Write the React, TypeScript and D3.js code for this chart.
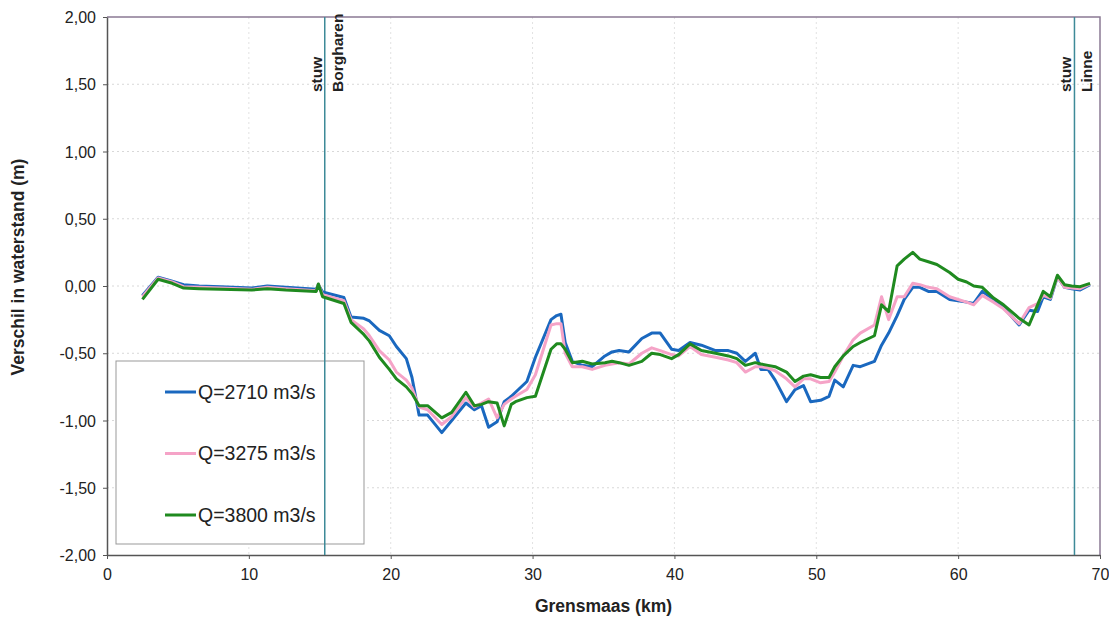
import React, { useEffect, useRef } from 'react';
import * as d3 from 'd3';

const km = [2.5, 3.6, 4.6, 5.4, 6.5, 8, 10.2, 11.3, 12.6, 14.75, 14.9, 15.2, 16.7, 17.2, 18.1, 18.5, 19.2, 19.9, 20.4, 21.1, 21.5, 22.0, 22.6, 23.6, 24.3, 25.3, 25.9, 26.4, 26.9, 27.5, 28.0, 28.5, 28.8, 29.6, 30.2, 31.3, 31.7, 32.0, 32.3, 32.8, 33.5, 34.2, 35.1, 35.6, 36.1, 36.8, 37.7, 38.4, 39.0, 39.8, 40.3, 41.1, 41.9, 42.9, 43.8, 44.4, 45.0, 45.7, 46.1, 46.6, 47.1, 47.9, 48.5, 49.1, 49.6, 50.3, 50.9, 51.3, 51.9, 52.6, 53.1, 54.1, 54.6, 55.1, 55.7, 56.2, 56.8, 57.3, 57.9, 58.5, 59.4, 60.0, 60.6, 61.1, 61.7, 62.5, 63.2, 64.3, 65.0, 65.6, 66.0, 66.5, 67.0, 67.5, 68.0, 68.6, 69.3];

const q2710 = [-0.07, 0.065, 0.035, 0.01, 0.0, -0.005, -0.015, 0.0, -0.01, -0.025, 0.01, -0.045, -0.085, -0.23, -0.24, -0.26, -0.33, -0.37, -0.45, -0.54, -0.68, -0.96, -0.96, -1.09, -1.0, -0.87, -0.92, -0.89, -1.05, -1.01, -0.86, -0.82, -0.79, -0.71, -0.53, -0.25, -0.22, -0.21, -0.42, -0.56, -0.59, -0.6, -0.52, -0.49, -0.48, -0.49, -0.39, -0.35, -0.35, -0.47, -0.48, -0.42, -0.44, -0.48, -0.48, -0.5, -0.56, -0.5, -0.62, -0.62, -0.7, -0.86, -0.77, -0.74, -0.86, -0.85, -0.82, -0.7, -0.75, -0.59, -0.6, -0.56, -0.44, -0.35, -0.22, -0.1, -0.01, -0.01, -0.04, -0.04, -0.1, -0.11, -0.12, -0.13, -0.04, -0.1, -0.16, -0.29, -0.18, -0.19, -0.08, -0.1, 0.07, -0.01, -0.02, -0.03, 0.01];

const q3275 = [-0.08, 0.06, 0.03, -0.005, -0.01, -0.015, -0.025, -0.01, -0.02, -0.035, 0.012, -0.065, -0.11, -0.25, -0.32, -0.37, -0.48, -0.55, -0.64, -0.7, -0.76, -0.9, -0.92, -1.03, -0.97, -0.83, -0.9, -0.87, -0.84, -0.98, -0.88, -0.84, -0.82, -0.77, -0.66, -0.29, -0.28, -0.28, -0.5, -0.6, -0.6, -0.62, -0.59, -0.58, -0.57, -0.58, -0.5, -0.46, -0.48, -0.51, -0.52, -0.45, -0.51, -0.53, -0.55, -0.57, -0.64, -0.6, -0.6, -0.61, -0.63, -0.69, -0.75, -0.69, -0.69, -0.72, -0.71, -0.64, -0.52, -0.4, -0.35, -0.29, -0.08, -0.25, -0.08, -0.08, 0.02, 0.01, -0.01, -0.02, -0.08, -0.1, -0.12, -0.14, -0.07, -0.12, -0.17, -0.28, -0.16, -0.13, -0.07, -0.09, 0.07, -0.01, -0.015, -0.02, 0.015];

const q3800 = [-0.1, 0.05, 0.02, -0.015, -0.02, -0.025, -0.03, -0.02, -0.03, -0.04, 0.015, -0.08, -0.13, -0.27, -0.36, -0.41, -0.53, -0.62, -0.69, -0.75, -0.8, -0.89, -0.89, -0.98, -0.94, -0.79, -0.89, -0.88, -0.86, -0.87, -1.04, -0.88, -0.86, -0.83, -0.82, -0.47, -0.43, -0.43, -0.47, -0.57, -0.56, -0.58, -0.57, -0.56, -0.57, -0.59, -0.56, -0.5, -0.51, -0.54, -0.51, -0.43, -0.48, -0.5, -0.52, -0.54, -0.59, -0.57, -0.58, -0.59, -0.6, -0.64, -0.71, -0.67, -0.66, -0.68, -0.68, -0.6, -0.52, -0.45, -0.42, -0.37, -0.14, -0.19, 0.15, 0.2, 0.25, 0.2, 0.18, 0.16, 0.1, 0.05, 0.03, 0.0, -0.01, -0.09, -0.14, -0.24, -0.29, -0.14, -0.04, -0.08, 0.08, 0.01, 0.0, -0.005, 0.02];

const seriesNames = ['Q=2710 m3/s', 'Q=3275 m3/s', 'Q=3800 m3/s'];
const seriesValues = [q2710, q3275, q3800];
const seriesColors = ['#1a68bf', '#f5a3c7', '#1f8a1f'];

const weirKm = [15.35, 68.2];
const weirNames = ['Borgharen', 'Linne'];

const xTicks = [0, 10, 20, 30, 40, 50, 60, 70];
const yTicks = [-2, -1.5, -1, -0.5, 0, 0.5, 1, 1.5, 2];

const W = 1109;
const H = 617;
const margin = { top: 17, right: 9, bottom: 62, left: 107 };
const font = 'Arial, "Liberation Sans", sans-serif';

const nl = d3.formatLocale({ decimal: ',', thousands: '.', grouping: [3], currency: ['€', ''], minus: '-' });
const fmt = nl.format('.2f');

const App = () => {
    const svgRef = useRef(null);

    useEffect(() => {
        const svg = d3.select(svgRef.current);
        svg.selectAll('*').remove();

        const x = d3.scaleLinear().domain([0, 70]).range([margin.left, W - margin.right]);
        const y = d3.scaleLinear().domain([-2, 2]).range([H - margin.bottom, margin.top]);

        svg.append('rect').attr('width', W).attr('height', H).attr('fill', '#fff');

        // grid
        svg.append('g')
            .selectAll('line')
            .data(yTicks.filter(d => d > -2 && d < 2))
            .join('line')
            .attr('x1', x(0)).attr('x2', x(70))
            .attr('y1', d => y(d)).attr('y2', d => y(d))
            .attr('stroke', '#d8d8d8').attr('stroke-dasharray', '2,3');
        svg.append('g')
            .selectAll('line')
            .data(xTicks.filter(d => d > 0 && d < 70))
            .join('line')
            .attr('x1', d => x(d)).attr('x2', d => x(d))
            .attr('y1', y(2)).attr('y2', y(-2))
            .attr('stroke', '#e2e2e2').attr('stroke-dasharray', '2,3');

        // top and right border
        svg.append('path')
            .attr('d', `M${x(0)},${y(2)}H${x(70)}V${y(-2)}`)
            .attr('fill', 'none')
            .attr('stroke', '#8a7a94').attr('stroke-width', 1.5);

        // axes
        svg.append('g')
            .attr('transform', `translate(0,${y(-2)})`)
            .call(d3.axisBottom(x).tickValues(xTicks).tickSize(4).tickSizeOuter(0).tickPadding(10))
            .call(g => g.select('.domain').attr('stroke', '#555').attr('stroke-width', 1.5))
            .call(g => g.selectAll('.tick line').attr('stroke', '#555'))
            .selectAll('text')
            .attr('fill', '#222')
            .style('font-family', font)
            .style('font-size', '16px');

        svg.append('g')
            .attr('transform', `translate(${x(0)},0)`)
            .call(d3.axisLeft(y).tickValues(yTicks).tickFormat(fmt).tickSize(4).tickSizeOuter(0).tickPadding(7))
            .call(g => g.select('.domain').attr('stroke', '#555').attr('stroke-width', 1.5))
            .call(g => g.selectAll('.tick line').attr('stroke', '#555'))
            .selectAll('text')
            .attr('fill', '#222')
            .attr('dy', '0.35em')
            .style('font-family', font)
            .style('font-size', '16px');

        // legend box (behind lines)
        const legend = svg.append('g');
        legend.append('rect')
            .attr('x', 116).attr('y', 361).attr('width', 248).attr('height', 183)
            .attr('fill', '#fff').attr('stroke', '#999').attr('stroke-width', 1);
        seriesNames.forEach((name, i) => {
            const ly = 392 + i * 61.5;
            legend.append('line')
                .attr('x1', 165).attr('x2', 196).attr('y1', ly).attr('y2', ly)
                .attr('stroke', seriesColors[i]).attr('stroke-width', 3);
            legend.append('text')
                .attr('x', 198).attr('y', ly).attr('dy', '0.35em')
                .attr('fill', '#222')
                .style('font-family', font).style('font-size', '19.5px')
                .text(name);
        });

        // weirs
        weirKm.forEach((k, i) => {
            svg.append('line')
                .attr('x1', x(k)).attr('x2', x(k)).attr('y1', y(2)).attr('y2', y(-2))
                .attr('stroke', '#3d8a98').attr('stroke-width', 1.5);
            svg.append('text')
                .attr('transform', `translate(${x(k) - 3},92) rotate(-90)`)
                .attr('fill', '#222')
                .style('font-family', font).style('font-size', '15.5px').style('font-weight', 'bold')
                .text('stuw');
            svg.append('text')
                .attr('transform', `translate(${x(k) + 18},92) rotate(-90)`)
                .attr('fill', '#222')
                .style('font-family', font).style('font-size', '15.5px').style('font-weight', 'bold')
                .text(weirNames[i]);
        });

        // series
        const line = d3.line().x((d, i) => x(km[i])).y(d => y(d));
        seriesValues.forEach((vals, i) => {
            svg.append('path')
                .datum(vals)
                .attr('d', line)
                .attr('fill', 'none')
                .attr('stroke', seriesColors[i])
                .attr('stroke-width', 3)
                .attr('stroke-linejoin', 'round');
        });

        // axis titles
        svg.append('text')
            .attr('x', (x(0) + x(70)) / 2).attr('y', 612)
            .attr('text-anchor', 'middle')
            .attr('fill', '#222')
            .style('font-family', font).style('font-size', '17.5px').style('font-weight', 'bold')
            .text('Grensmaas (km)');
        svg.append('text')
            .attr('transform', `translate(24,267) rotate(-90)`)
            .attr('text-anchor', 'middle')
            .attr('fill', '#222')
            .style('font-family', font).style('font-size', '17.5px').style('font-weight', 'bold')
            .text('Verschil in waterstand (m)');
    }, []);

    return (
        <svg
            ref={svgRef}
            width={W}
            height={H}
            style={{ position: 'absolute', left: 0, top: 0 }}
        />
    );
};

export default App;
